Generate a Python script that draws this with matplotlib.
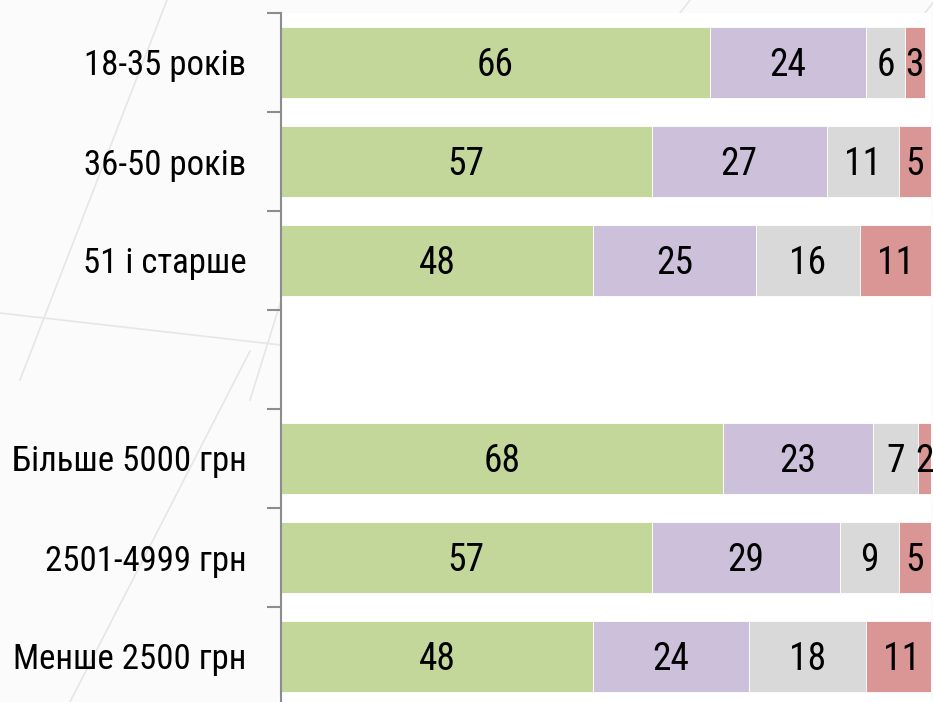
import matplotlib
matplotlib.use("Agg")
import matplotlib.pyplot as plt
from matplotlib.lines import Line2D

categories = ["18-35 років", "36-50 років", "51 і старше", "",
              "Більше 5000 грн", "2501-4999 грн", "Менше 2500 грн"]
s1 = [66, 57, 48, None, 68, 57, 48]
s2 = [24, 27, 25, None, 23, 29, 24]
s3 = [6, 11, 16, None, 7, 9, 18]
s4 = [3, 5, 11, None, 2, 5, 11]
series = [s1, s2, s3, s4]
colors = ["#C4D79B", "#CCC0DA", "#D9D9D9", "#DA9694"]

plt.rcParams['font.family'] = ['Roboto Condensed', 'DejaVu Sans']

W, H = 933, 702
fig = plt.figure(figsize=(W / 100, H / 100), dpi=100, facecolor="#fbfbfb")

# faint decorative background lines
for (x0, y0, x1, y1) in [(167, 0, 20, 380), (250, 351, 70, 702), (0, 313, 281, 345),
                         (300, 240, 250, 400), (690, 0, 680, 13), (935, 0, 925, 13)]:
    fig.add_artist(Line2D([x0 / W, x1 / W], [1 - y0 / H, 1 - y1 / H],
                          transform=fig.transFigure, color="#e6e6e6", lw=1.2, zorder=0))

left, right, top = 281, 931, 13
slot = 99
n = len(categories)
ax = fig.add_axes([left / W, (H - top - n * slot) / H, (right - left) / W, n * slot / H])
ax.set_facecolor("white")

ypos = list(range(n))
for i, y in enumerate(ypos):
    if s1[i] is None:
        continue
    start = 0
    for s, c in zip(series, colors):
        v = s[i]
        ax.barh(y, v, left=start, height=0.72, color=c, edgecolor="white", linewidth=0.6)
        ax.text(start + v / 2, y + 0.035, str(v), ha="center", va="center", fontsize=27, color="black")
        start += v

ax.set_xlim(0, 100)
ax.set_ylim(n - 0.5, -0.5)
ax.set_yticks(ypos)
ax.set_yticklabels(categories, fontsize=25)
ax.tick_params(axis="y", which="major", length=0, pad=25)
ax.set_yticks([i - 0.5 for i in range(n + 1)], minor=True)
ax.tick_params(axis="y", which="minor", length=10, width=1.5, color="#8c8c8c", direction="out")
ax.set_xticks([])
for sp in ["top", "right", "bottom"]:
    ax.spines[sp].set_visible(False)
ax.spines["left"].set_color("#8c8c8c")
ax.spines["left"].set_linewidth(1.5)

fig.savefig("out.png", dpi=100, facecolor=fig.get_facecolor())
